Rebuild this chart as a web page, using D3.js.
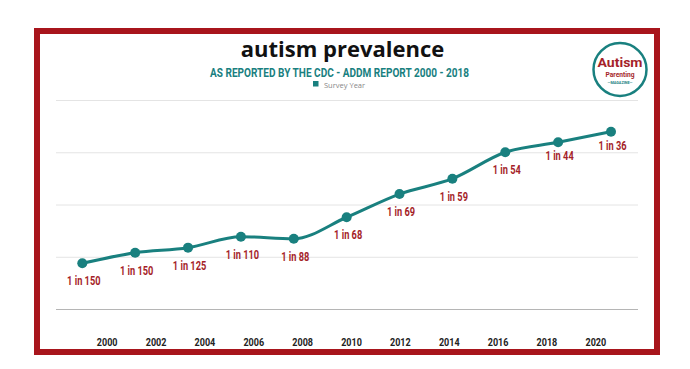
<!DOCTYPE html>
<html><head><meta charset="utf-8">
<script src="https://cdn.jsdelivr.net/npm/d3@7"></script>
<style>
html,body{margin:0;padding:0;background:#fff;}
svg{display:block;}
</style></head>
<body><svg id="c" width="690" height="369"></svg>
<script>
const years = ["2000","2002","2004","2006","2008","2010","2012","2014","2016","2018","2020"];
const values = [4.37, 5.39, 5.87, 6.92, 6.73, 8.78, 11.0, 12.47, 15.0, 15.95, 16.97];
const labels = ["1 in 150","1 in 150","1 in 125","1 in 110","1 in 88","1 in 68","1 in 69","1 in 59","1 in 54","1 in 44","1 in 36"];
const yTicks = [0, 5, 10, 15, 20];
const title = "autism prevalence";
const subtitle = "AS REPORTED BY THE CDC - ADDM REPORT 2000 - 2018";
const legendLabel = "Survey Year";

const teal = "#19807f", red = "#a51f2a";
const condFont = "Roboto, 'Liberation Sans', sans-serif";
const svg = d3.select("#c");

// frame
svg.append("rect").attr("x",37).attr("y",31).attr("width",620).attr("height",321)
  .attr("fill","#fff").attr("stroke","#a8151c").attr("stroke-width",6);

const y = d3.scaleLinear().domain([0,20]).range([309,100]);
const xPts = d3.scalePoint().domain(years).range([82.3,611]);
const xAxisScale = d3.scalePoint().domain(years).range([106.7,595.3]);

// gridlines
const grid = svg.append("g").attr("transform","translate(56,0)")
  .call(d3.axisLeft(y).tickValues(yTicks).tickSize(-582).tickFormat(""));
grid.select(".domain").remove();
grid.selectAll(".tick line").attr("stroke", d => d===0 ? "#b5b5b5" : "#e4e4e4").attr("stroke-width",1);

// x axis labels
const xa = svg.append("g").attr("transform","translate(0,346)")
  .call(d3.axisBottom(xAxisScale).tickSize(0).tickPadding(0));
xa.select(".domain").remove();
xa.selectAll("text").attr("font-family",condFont).attr("font-size",11).attr("font-weight","bold")
  .attr("fill","#222").attr("y",0).attr("dy",0).attr("transform","scale(0.82,1)");

// line
const line = d3.line().x((d,i)=>xPts(years[i])).y(d=>y(d)).curve(d3.curveMonotoneX);
svg.append("path").datum(values).attr("d",line).attr("fill","none")
  .attr("stroke",teal).attr("stroke-width",3);
svg.selectAll("circle.pt").data(values).enter().append("circle").attr("class","pt")
  .attr("cx",(d,i)=>xPts(years[i])).attr("cy",d=>y(d)).attr("r",5).attr("fill",teal);

// data labels
svg.selectAll("text.lab").data(values).enter().append("text").attr("class","lab")
  .attr("transform",(d,i)=>`translate(${xPts(years[i])+1.5},${y(d)+(i>=9?18:22)}) scale(0.74,1)`)
  .attr("text-anchor","middle").attr("font-family",condFont).attr("font-size",12.5).attr("font-weight","bold")
  .attr("fill",red).text((d,i)=>labels[i]);

// title
svg.append("text").attr("x",342.5).attr("y",57).attr("text-anchor","middle")
  .attr("font-family","'Open Sans',sans-serif").attr("font-weight","bold").attr("font-size",22)
  .attr("fill","#111").text(title);
svg.append("text").attr("x",339.5).attr("y",77).attr("text-anchor","middle")
  .attr("font-family",condFont).attr("font-size",12.5).attr("font-weight","bold").attr("fill",teal)
  .attr("textLength",259).attr("lengthAdjust","spacingAndGlyphs").text(subtitle);
// legend
svg.append("rect").attr("x",313).attr("y",81).attr("width",5.5).attr("height",5.5).attr("fill",teal);
svg.append("text").attr("x",324).attr("y",87.5).attr("font-family","'Open Sans',sans-serif")
  .attr("font-size",7.5).attr("fill","#888").text(legendLabel);

// logo
const lg = svg.append("g").attr("transform","translate(620,69.5)");
lg.append("circle").attr("r",26.5).attr("fill","#fff").attr("stroke",teal).attr("stroke-width",2.5);
lg.append("text").attr("x",-22.5).attr("y",-2.5).attr("font-family",condFont).attr("font-size",13.5)
  .attr("font-weight","bold").attr("fill",red).attr("textLength",45).attr("lengthAdjust","spacingAndGlyphs").text("Autism");
lg.append("text").attr("x",-14.5).attr("y",7.5).attr("font-family",condFont).attr("font-size",7.5)
  .attr("font-weight","bold").attr("fill",red).attr("textLength",29).attr("lengthAdjust","spacingAndGlyphs").text("Parenting");
lg.append("text").attr("x",-12.5).attr("y",14.5).attr("font-family",condFont).attr("font-size",4)
  .attr("font-weight","bold").attr("fill",teal).attr("textLength",25).attr("lengthAdjust","spacingAndGlyphs").text("—MAGAZINE—");
</script></body></html>
